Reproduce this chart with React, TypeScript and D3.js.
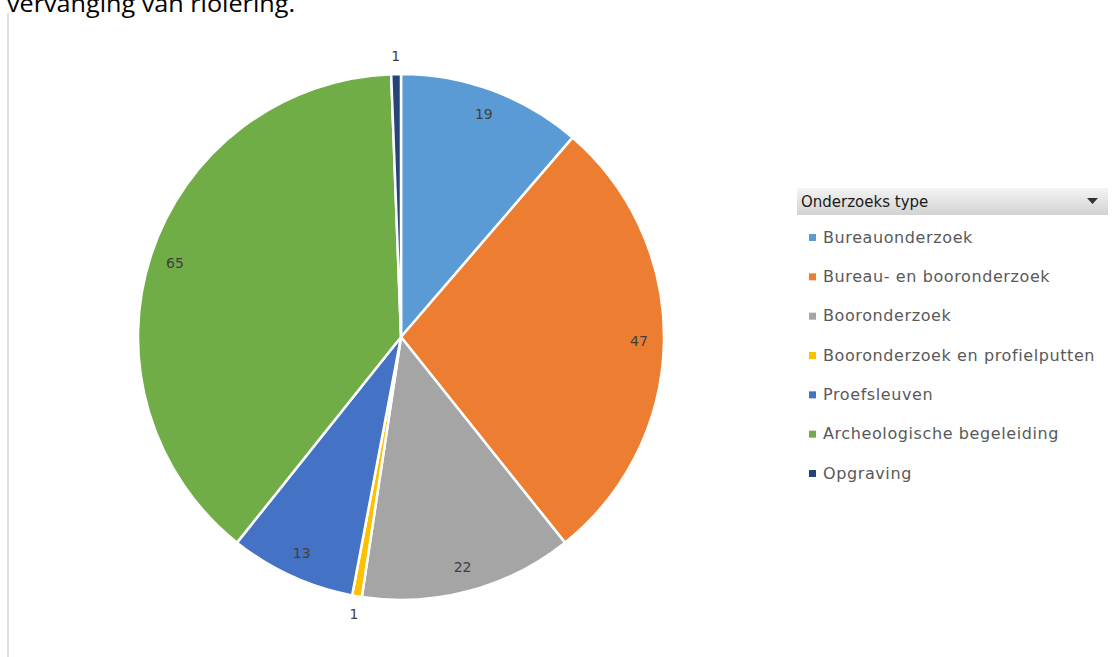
import React from "react";
import * as d3 from "d3";

const categories = [
  "Bureauonderzoek",
  "Bureau- en booronderzoek",
  "Booronderzoek",
  "Booronderzoek en profielputten",
  "Proefsleuven",
  "Archeologische begeleiding",
  "Opgraving",
];
const values = [19, 47, 22, 1, 13, 65, 1];
const colors = ["#5B9BD5", "#ED7D31", "#A5A5A5", "#FFC000", "#4472C4", "#70AD47", "#264478"];
const legendTitle = "Onderzoeks type";
const headline = "vervanging van riolering.";

export default function App() {
  const W = 1112, H = 657;
  const cx = 401, cy = 337, R = 263;
  const pie = d3.pie<number>().sort(null).value((d) => d)(values);
  const arc = d3.arc<d3.PieArcDatum<number>>().innerRadius(0).outerRadius(R);
  const total = d3.sum(values);
  const labelPos = (d: d3.PieArcDatum<number>) => {
    const a = (d.startAngle + d.endAngle) / 2;
    const small = d.value / total < 0.02;
    const r = small ? 281 : 238;
    return [cx + r * Math.sin(a), cy - r * Math.cos(a)];
  };
  const legendY = d3.scaleLinear().domain([0, categories.length - 1]).range([237, 473]);
  const font = "'DejaVu Sans', sans-serif";
  return (
    <svg width={W} height={H} style={{ position: "absolute", left: 0, top: 0 }}>
      <defs>
        <linearGradient id="hdr" x1="0" y1="0" x2="0" y2="1">
          <stop offset="0" stopColor="#f4f4f4" />
          <stop offset="1" stopColor="#d2d2d2" />
        </linearGradient>
      </defs>
      <rect x={0} y={0} width={W} height={H} fill="#fff" />
      <text x={7} y={12} fontFamily="'Open Sans', sans-serif" fontSize={23} fill="#000" textLength={288} lengthAdjust="spacingAndGlyphs">{headline}</text>
      <line x1={8} y1={13} x2={8} y2={H} stroke="#e0e0e0" strokeWidth={2} />
      <g transform={`translate(${cx},${cy})`}>
        {pie.map((d, i) => (
          <path key={i} d={arc(d) || ""} fill={colors[i]} stroke="#fff" strokeWidth={2.5} strokeLinejoin="round" />
        ))}
      </g>
      {pie.map((d, i) => {
        const [x, y] = labelPos(d);
        return (
          <text key={i} x={x} y={y} dy="0.35em" textAnchor="middle" fontFamily={font} fontSize={14} fill="#404040">
            {d.value}
          </text>
        );
      })}
      <rect x={797} y={188} width={311} height={27} fill="url(#hdr)" />
      <text x={801} y={207} fontFamily={font} fontSize={15} fill="#1a1a1a">{legendTitle}</text>
      <path d="M1087,198 L1098,198 L1092.5,204 Z" fill="#333" />
      {categories.map((c, i) => (
        <g key={c}>
          <rect x={809} y={legendY(i) - 3} width={7} height={7} fill={colors[i]} />
          <text x={823} y={legendY(i)} dy="0.35em" fontFamily={font} fontSize={16} letterSpacing={0.6} fill="#595959">{c}</text>
        </g>
      ))}
    </svg>
  );
}
